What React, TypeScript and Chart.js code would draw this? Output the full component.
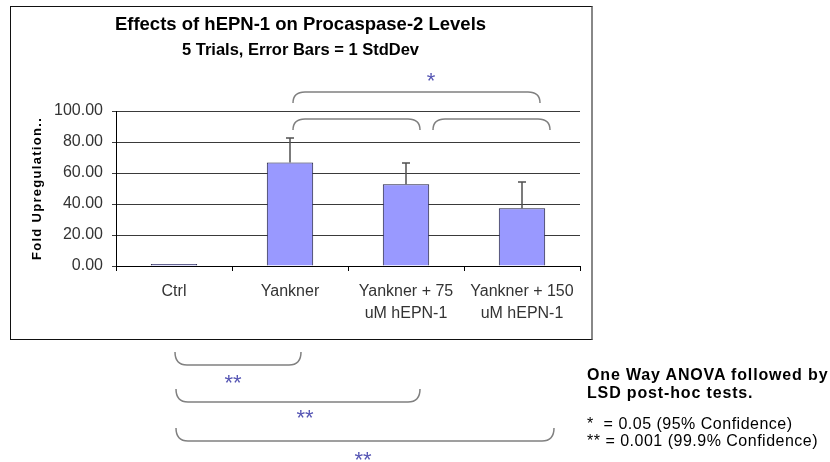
import React, { useEffect, useRef } from 'react';
import { Chart, registerables } from 'chart.js';

Chart.register(...registerables);

const FONT = '"Liberation Sans", Arial, Helvetica, sans-serif';

const categories = [['Ctrl'], ['Yankner'], ['Yankner + 75', 'uM hEPN-1'], ['Yankner + 150', 'uM hEPN-1']];
const meanValues = [1.3, 66.8, 52.8, 37.2];
const stdDevValues = [0, 16.0, 13.5, 17.2];
const yTicks = [0, 20, 40, 60, 80, 100];
const chartTitle = 'Effects of hEPN-1 on Procaspase-2 Levels';
const chartSubtitle = '5 Trials, Error Bars = 1 StdDev';
const yAxisTitle = 'Fold Upregulation..';
const noteHeading = ['One Way ANOVA followed by', 'LSD post-hoc tests.'];
const noteLegend = ['*  = 0.05 (95% Confidence)', '** = 0.001 (99.9% Confidence)'];

const errorBarPlugin = {
  id: 'errorBars',
  afterDatasetsDraw(chart: any) {
    const meta = chart.getDatasetMeta(0);
    const yScale = chart.scales.y;
    const ctx = chart.ctx;
    ctx.save();
    ctx.strokeStyle = '#505050';
    ctx.lineWidth = 1.5;
    meta.data.forEach((bar: any, i: number) => {
      const sd = stdDevValues[i];
      if (!sd) return;
      const x = Math.round(bar.x);
      const yBase = yScale.getPixelForValue(meanValues[i]);
      const yTop = Math.round(yScale.getPixelForValue(meanValues[i] + sd));
      ctx.beginPath();
      ctx.moveTo(x, yBase);
      ctx.lineTo(x, yTop);
      ctx.moveTo(x - 4, yTop);
      ctx.lineTo(x + 4, yTop);
      ctx.stroke();
    });
    ctx.restore();
  },
};

const yTitlePlugin = {
  id: 'yTitleSpaced',
  afterDraw(chart: any) {
    const { ctx, chartArea } = chart;
    ctx.save();
    ctx.translate(26, (chartArea.top + chartArea.bottom) / 2);
    ctx.rotate(-Math.PI / 2);
    ctx.font = `bold 13px ${FONT}`;
    try { (ctx as any).letterSpacing = '1.3px'; } catch (e) {}
    ctx.textAlign = 'center';
    ctx.textBaseline = 'middle';
    ctx.fillStyle = '#000';
    ctx.fillText(yAxisTitle, 0, 0);
    ctx.restore();
  },
};

function ChartBox() {
  const canvasRef = useRef<HTMLCanvasElement | null>(null);
  useEffect(() => {
    if (!canvasRef.current) return;
    const chart = new Chart(canvasRef.current, {
      type: 'bar',
      data: {
        labels: categories as any,
        datasets: [
          {
            data: meanValues,
            backgroundColor: '#9999FF',
            borderColor: '#1e1e3c',
            borderWidth: 1,
            barPercentage: 0.4,
            categoryPercentage: 1.0,
          },
        ],
      },
      options: {
        animation: false,
        responsive: true,
        maintainAspectRatio: false,
        devicePixelRatio: 1,
        layout: { padding: { left: 10, right: 11, top: 0, bottom: 4 } },
        plugins: {
          legend: { display: false },
          tooltip: { enabled: false },
          title: {
            display: true,
            text: chartTitle,
            color: '#000',
            font: { family: FONT, size: 18.5, weight: 'bold' },
            padding: { top: 7, bottom: 3 },
          },
          subtitle: {
            display: true,
            text: chartSubtitle,
            color: '#000',
            font: { family: FONT, size: 16.5, weight: 'bold' },
            padding: { top: 1, bottom: 51 },
          },
        },
        scales: {
          x: {
            type: 'category',
            offset: true,
            grid: {
              display: true,
              drawOnChartArea: false,
              drawTicks: true,
              tickLength: 5,
              offset: true,
              color: '#000',
            },
            border: { display: true, color: '#000', width: 1 },
            ticks: {
              color: '#333',
              font: { family: FONT, size: 16, lineHeight: 1.375 },
              padding: 10,
              maxRotation: 0,
              autoSkip: false,
            },
          },
          y: {
            min: 0,
            max: 100,
            afterBuildTicks: (scale: any) => {
              scale.ticks = yTicks.map((v) => ({ value: v }));
            },
            afterFit: (scale: any) => {
              scale.width = 95;
            },
            grid: { color: '#3a3a3a', tickLength: 4, drawTicks: true },
            border: { display: true, color: '#000', width: 1 },
            ticks: {
              color: '#333',
              font: { family: FONT, size: 16 },
              padding: 9,
              callback: (v: any) => Number(v).toFixed(2),
            },
          },
        },
      },
      plugins: [errorBarPlugin, yTitlePlugin],
    });
    return () => chart.destroy();
  }, []);
  return <canvas ref={canvasRef} />;
}

const BRACE = '#808080';
const STAR = '#5656b4';

function topBrace(x1: number, x2: number, yt: number, yb: number, r: number) {
  return `M ${x1} ${yb} Q ${x1} ${yt} ${x1 + r} ${yt} L ${x2 - r} ${yt} Q ${x2} ${yt} ${x2} ${yb}`;
}
function bottomBrace(x1: number, x2: number, yt: number, yb: number, r: number) {
  return `M ${x1} ${yt} Q ${x1} ${yb} ${x1 + r} ${yb} L ${x2 - r} ${yb} Q ${x2} ${yb} ${x2} ${yt}`;
}

export default function App() {
  return (
    <div
      style={{
        position: 'absolute',
        left: 0,
        top: 0,
        width: 830,
        height: 462,
        background: '#fff',
        overflow: 'hidden',
        fontFamily: FONT,
      }}
    >
      <div
        style={{
          position: 'absolute',
          left: 10,
          top: 6,
          width: 583,
          height: 334,
          boxSizing: 'border-box',
          borderLeft: '1px solid #111',
          borderTop: '1px solid #111',
          borderBottom: '1px solid #111',
          borderRight: '2px solid #888',
        }}
      >
        <div style={{ position: 'relative', width: 580, height: 332 }}>
          <ChartBox />
        </div>
      </div>

      <svg
        width={830}
        height={462}
        style={{ position: 'absolute', left: 0, top: 0, pointerEvents: 'none' }}
      >
        <g fill="none" stroke={BRACE} strokeWidth={1.5}>
          <path d={topBrace(293, 540, 92, 103, 12)} />
          <path d={topBrace(293, 420, 119, 130, 12)} />
          <path d={topBrace(433, 550, 119, 130, 12)} />
          <path d={bottomBrace(175, 301, 352, 365, 12)} />
          <path d={bottomBrace(176, 420, 389, 402, 12)} />
          <path d={bottomBrace(176, 554, 428, 441, 12)} />
        </g>
        <g fill={STAR} fontFamily={FONT} fontSize={22} textAnchor="middle">
          <text x={431} y={87.5}>*</text>
          <text x={233} y={389.5}>**</text>
          <text x={305} y={424.5}>**</text>
          <text x={363} y={467}>**</text>
        </g>
      </svg>

      <div
        style={{
          position: 'absolute',
          left: 587,
          top: 366,
          fontWeight: 'bold',
          fontSize: 16,
          lineHeight: '18px',
          letterSpacing: '0.85px',
          color: '#000',
          whiteSpace: 'pre',
        }}
      >
        {noteHeading[0]}
        <br />
        {noteHeading[1]}
      </div>
      <div
        style={{
          position: 'absolute',
          left: 587,
          top: 415,
          fontSize: 16,
          lineHeight: '17px',
          letterSpacing: '0.5px',
          color: '#000',
          whiteSpace: 'pre',
        }}
      >
        {noteLegend[0]}
        <br />
        {noteLegend[1]}
      </div>
    </div>
  );
}
